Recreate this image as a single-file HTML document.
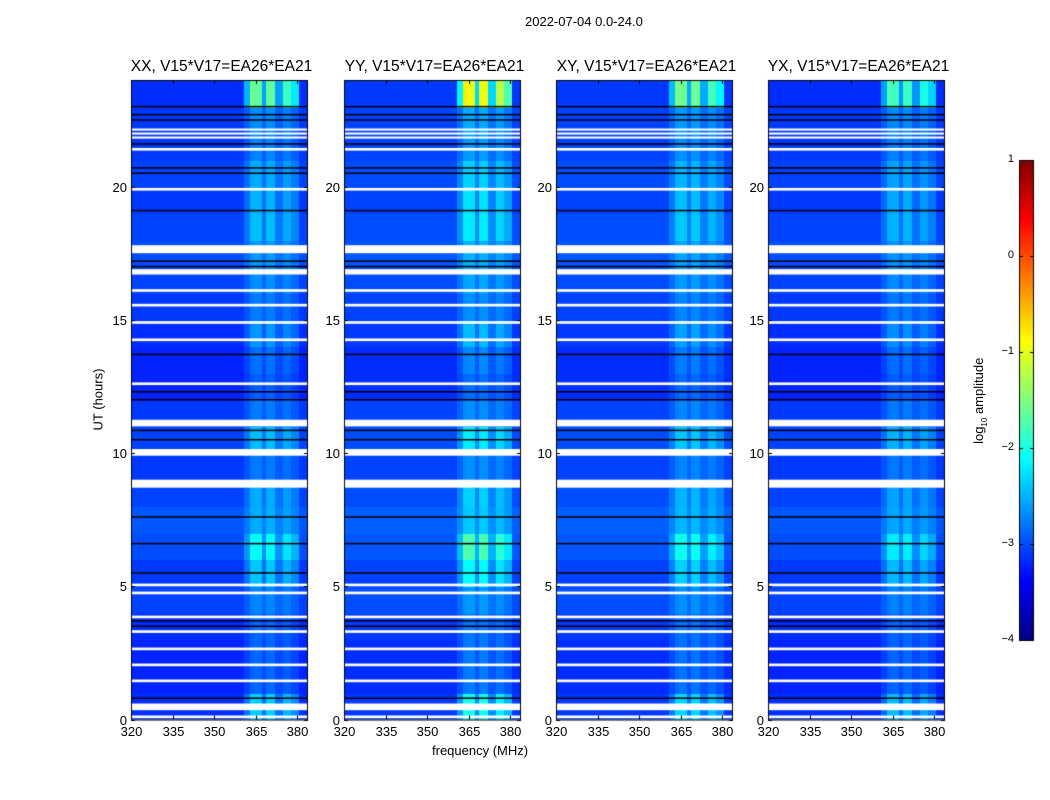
<!DOCTYPE html>
<html><head><meta charset="utf-8">
<style>
body{margin:0;background:#fff;width:1050px;height:800px;overflow:hidden;font-family:"Liberation Sans",sans-serif}
#wrap{position:relative;width:1050px;height:800px}
.t{position:absolute;white-space:nowrap;color:#000}
canvas{position:absolute;left:0;top:0}
</style></head><body>
<div id="wrap">
<canvas id="c" width="1050" height="800"></canvas>
<div class="t" style="left:525px;top:14px;font-size:13px">2022-07-04 0.0-24.0</div>
<div class="t" style="left:432px;top:743px;font-size:13px">frequency (MHz)</div>
<div class="t" style="left:60px;top:392px;font-size:13px;transform:rotate(-90deg);transform-origin:center;width:76px;text-align:center">UT (hours)</div>
<div class="t" style="left:930px;top:392px;font-size:13px;transform:rotate(-90deg);width:100px;text-align:center">log<sub style="font-size:8px">10</sub> amplitude</div>
<div id="labels"></div>
</div>
<script>
const titles=["XX, V15*V17=EA26*EA21","YY, V15*V17=EA26*EA21","XY, V15*V17=EA26*EA21","YX, V15*V17=EA26*EA21"];
const panelLeft=[131,344,556,768];
const xTicks=[320,335,350,365,380];
const yTicks=[0,5,10,15,20];
const cbTicks=[1,0,-1,-2,-3,-4];
// frequency bands: [start MHz, end MHz]
const bandStart=[320,361,363,364.5,367.5,369,372,375,378,381];
const bandEnd  =[361,363,364.5,367.5,369,372,375,378,381,384];
const bandBase =[-3.15,-3.05,-2.95,-2.9,-3.0,-2.9,-3.0,-2.95,-3.05,-3.15];
const bandRfi  =[0,0.4,1,0.9,0.3,0.9,0.3,0.8,0.6,0];
// per-hour RFI boost (hour 0..23)
const hourBoost=[0.6,0.1,0.1,0.05,0.1,0.5,0.7,0.2,0.3,0.1,0.4,0.1,0.05,0.15,0.3,0.1,0.15,0.15,0.4,0.4,0.3,0.15,0.2,1.4];
const hourBase=[0,-0.05,-0.05,0,0.1,0.05,0.15,0.2,0.1,0.05,0.1,0.05,-0.05,-0.05,0,0.05,0.1,0.15,0.1,0.05,0.1,0.05,0.05,0];
const panelRfiScale=[1,1.5,1,0.85];
const panelBaseShift=[0,0.05,0.05,0];
// flagged (white) intervals in hours
const flagStart=[0.05,0.35,1.4,2.0,2.6,3.25,3.8,4.7,5.0,8.7,9.9,11.0,12.55,14.2,14.85,15.5,16.05,16.7,17.5,19.85,21.35,21.8,21.95,22.1];
const flagEnd  =[0.15,0.6,1.5,2.1,2.7,3.35,3.9,4.8,5.1,9.0,10.15,11.25,12.65,14.3,14.95,15.6,16.15,16.9,17.8,19.95,21.45,21.88,22.03,22.18];
// black lines (hours)
const blackLine=[0.8,3.5,3.7,5.5,6.6,7.6,10.85,10.5,12.0,12.3,13.7,17.2,17.0,19.1,20.5,20.7,21.6,22.5,23.0,22.7];
const cv=document.getElementById('c'),g=cv.getContext('2d');
const top0=80,bot=719.5,pw=177;
function yS(h){return bot-(bot-top0)*h/24}
function xS(p,f){return panelLeft[p]+(f-320)*2.77}
function jet(v){let t=(v+4)/5;t=Math.max(0,Math.min(1,t));
 const r=Math.max(0,Math.min(1,1.5-Math.abs(4*t-3))),gg=Math.max(0,Math.min(1,1.5-Math.abs(4*t-2))),b=Math.max(0,Math.min(1,1.5-Math.abs(4*t-1)));
 return `rgb(${r*255|0},${gg*255|0},${b*255|0})`}
const L=document.getElementById('labels');
function lab(txt,x,y,size,align,name){const d=document.createElement('div');d.className='t';d.textContent=txt;d.style.fontSize=size+'px';d.style.top=y+'px';
 if(align==='c'){d.style.left=(x-150)+'px';d.style.width='300px';d.style.textAlign='center'}else if(align==='r'){d.style.left=(x-40)+'px';d.style.width='40px';d.style.textAlign='right'}else d.style.left=x+'px';
 
 
 L.appendChild(d)}
for(let p=0;p<4;p++){
 const x0=panelLeft[p];
 g.save();g.beginPath();g.rect(x0,top0,pw,bot-top0);g.clip();
 for(let h=0;h<24;h++)for(let c=0;c<bandStart.length;c++){
  const v=bandBase[c]+panelBaseShift[p]+hourBase[h]+bandRfi[c]*hourBoost[h]*panelRfiScale[p];
  g.fillStyle=jet(v);const xa=xS(p,bandStart[c]),xb=xS(p,bandEnd[c]);
  g.fillRect(Math.floor(xa),Math.floor(yS(h+1)),Math.ceil(xb-xa)+1,Math.ceil(yS(h)-yS(h+1))+1)}
 g.fillStyle='#fff';
 for(let i=0;i<flagStart.length;i++){const ya=yS(flagEnd[i]),yb=yS(flagStart[i]);g.fillRect(x0,ya,pw,Math.max(2,yb-ya))}
 g.fillStyle='#000';
 for(const b of blackLine){g.fillRect(x0,yS(b)-0.75,pw,1.5)}
 g.restore();
 g.strokeStyle='#000';g.lineWidth=1;g.strokeRect(x0+0.5,top0+0.5,pw-1,bot-top0);
 for(const t of xTicks){const x=Math.round(xS(p,t))+0.5;g.beginPath();g.moveTo(x,bot);g.lineTo(x,bot-4);g.moveTo(x,top0);g.lineTo(x,top0+4);g.stroke();
  lab(String(t),x,724,13,'c','x-tick-label')}
 for(const t of yTicks){const y=Math.round(yS(t))+0.5;g.beginPath();g.moveTo(x0,y);g.lineTo(x0+4,y);g.moveTo(x0+pw,y);g.lineTo(x0+pw-4,y);g.stroke();
  lab(String(t),x0-4,y-8,13,'r','y-tick-label')}
 lab(titles[p],x0+pw/2+2,58,15.5,'c','panel-title');
}
// colorbar
const cbx=1019,cbt=160,cbb=640,cbw=15;
for(let y=cbt;y<cbb;y++){g.fillStyle=jet(1-5*(y-cbt)/(cbb-cbt));g.fillRect(cbx,y,cbw,1)}
g.strokeStyle='#000';g.strokeRect(cbx+0.5,cbt+0.5,cbw-1,cbb-cbt);
for(const t of cbTicks){const y=Math.round(cbt+(1-t)/5*(cbb-cbt))+0.5;g.beginPath();g.moveTo(cbx,y);g.lineTo(cbx+4,y);g.moveTo(cbx+cbw,y);g.lineTo(cbx+cbw-4,y);g.stroke();
 lab(t<0?'\u2212'+(-t):String(t),1014,y-8,11,'r','colorbar-tick-label')}
</script>
</body></html>
